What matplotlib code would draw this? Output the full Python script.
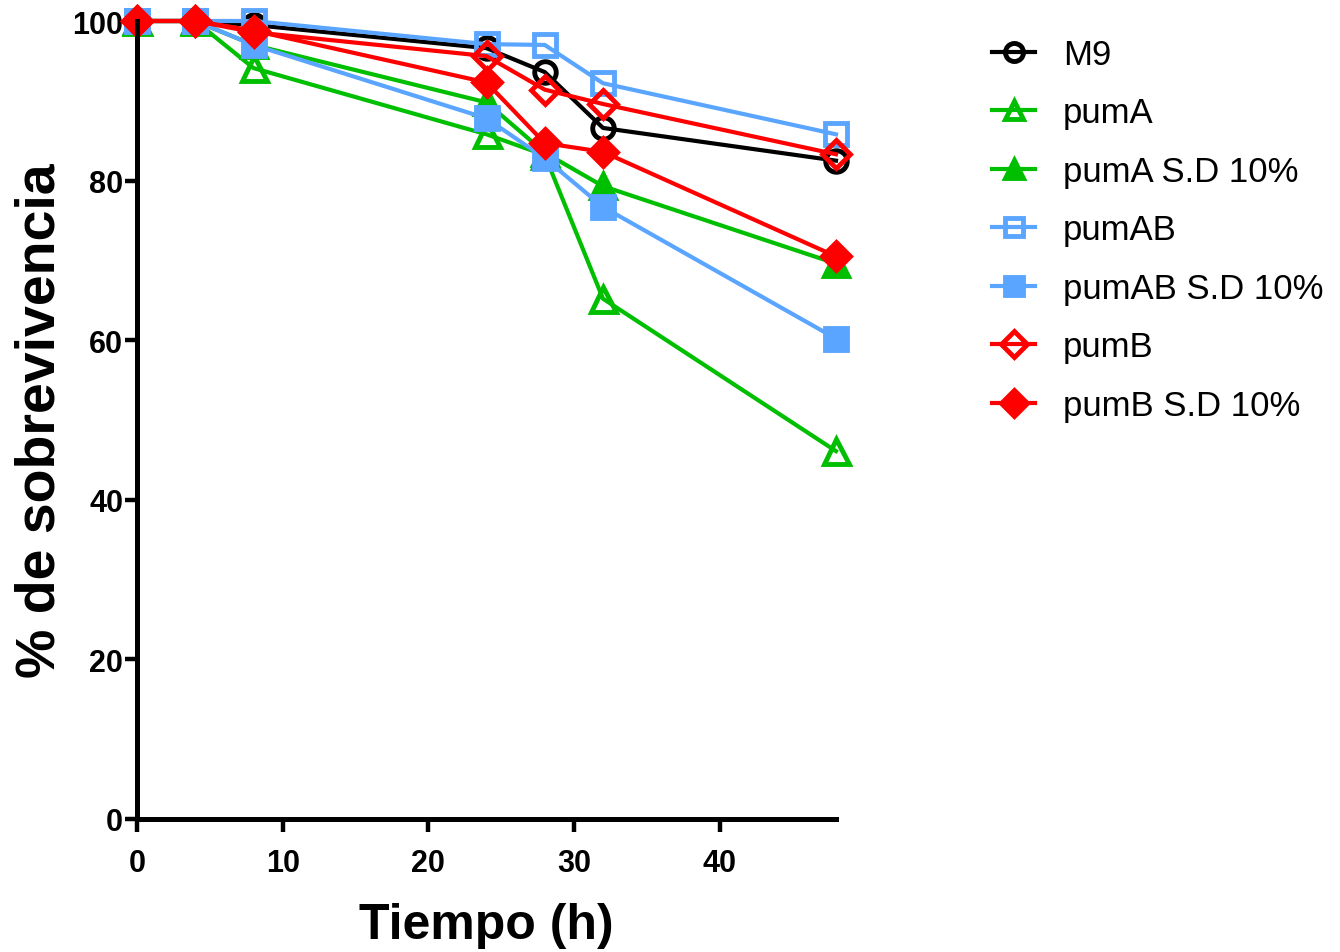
import matplotlib
matplotlib.use("Agg")
import matplotlib.pyplot as plt

# data
tiempo = [0, 4, 8, 24, 28, 32, 48]
m9 = [100, 100, 99.5, 96.6, 93.6, 86.6, 82.5]
pumA = [100, 100, 94.1, 85.8, 83.2, 65.2, 46.1]
pumA_sd = [100, 100, 97.0, 89.8, 83.5, 79.3, 69.6]
pumAB = [100, 100, 100, 97.1, 97.0, 92.2, 85.8]
pumAB_sd = [100, 100, 97.0, 87.8, 82.8, 76.7, 60.2]
pumB = [100, 100, 98.6, 95.6, 91.4, 89.6, 83.3]
pumB_sd = [100, 100, 98.8, 92.3, 84.7, 83.6, 70.5]

names = ["M9", "pumA", "pumA S.D 10%", "pumAB", "pumAB S.D 10%", "pumB", "pumB S.D 10%"]
series = [m9, pumA, pumA_sd, pumAB, pumAB_sd, pumB, pumB_sd]

GREEN = "#00BF00"
BLUE = "#5AA5FF"
RED = "#FF0000"
colors = ["black", GREEN, GREEN, BLUE, BLUE, RED, RED]
markers = ["o", "^", "^", "s", "s", "D", "D"]
filled = [False, False, True, False, True, False, True]
msizes = [15.5, 18, 17, 16, 16, 14.5, 14]

FONT = "Liberation Sans"

fig = plt.figure(figsize=(13.4, 9.53), dpi=100)
ax = fig.add_axes([137/1340, 133/953, (836-137)/1340, (820-22)/953])

for y, name, c, m, f, ms in zip(series, names, colors, markers, filled, msizes):
    ax.plot(tiempo, y, color=c, lw=3, marker=m, ms=ms,
            mfc=c if f else "none", mec=c, mew=3.5, clip_on=False, label=name)

ax.set_xlim(0, 48)
ax.set_ylim(0, 100)
ax.set_xticks([0, 10, 20, 30, 40])
ax.set_yticks([0, 20, 40, 60, 80, 100])
for s in ["top", "right"]:
    ax.spines[s].set_visible(False)
for s in ["left", "bottom"]:
    ax.spines[s].set_linewidth(3.6)
ax.tick_params(width=3.2, length=9, direction="out")
ax.tick_params(axis="x", pad=12)
ax.tick_params(axis="y", pad=1)
for lab in ax.get_xticklabels() + ax.get_yticklabels():
    lab.set_fontfamily(FONT)
    lab.set_fontweight("bold")
    lab.set_fontsize(22)

ax.set_xlabel("Tiempo (h)", family=FONT, weight="bold", fontsize=36, labelpad=17)
ax.set_ylabel("% de sobrevivencia", family=FONT, weight="bold", fontsize=40)
ax.yaxis.set_label_coords(-0.101, 0.5)

leg = ax.legend(loc="upper left", bbox_to_anchor=(978/1340, 1 - 25/953),
                bbox_transform=fig.transFigure, frameon=False,
                prop={"family": FONT, "size": 25}, handlelength=1.25,
                handletextpad=0.8, labelspacing=0.735, borderaxespad=0)
for h in leg.get_lines():
    h.set_markersize(13)

fig.savefig("out.png", dpi=100)
